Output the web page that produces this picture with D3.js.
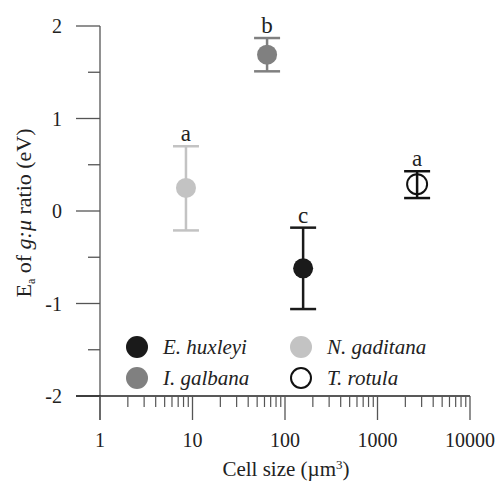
<!DOCTYPE html>
<html>
<head>
<meta charset="utf-8">
<script src="https://cdn.jsdelivr.net/npm/d3@7.9.0/dist/d3.min.js"></script>
<style>
  body { margin: 0; background: #fff; }
</style>
</head>
<body>
<svg width="501" height="482" font-family="'Liberation Serif', 'Times New Roman', Times, 'DejaVu Serif', serif"></svg>
<script>
const species = ['E. huxleyi', 'I. galbana', 'N. gaditana', 'T. rotula'];
const cellSize = [157, 64, 8.5, 2680];
const ea = [-0.62, 1.69, 0.25, 0.29];
const errLow = [-1.06, 1.51, -0.21, 0.14];
const errHigh = [-0.18, 1.87, 0.70, 0.43];
const letters = ['c', 'b', 'a', 'a'];
const fills = ['#1a1a1a', '#808080', '#c3c3c3', '#fff'];
const strokes = ['#1a1a1a', '#808080', '#c3c3c3', '#111'];
const xTicks = [1, 10, 100, 1000, 10000];
const yTicks = [-2, -1, 0, 1, 2];

const svg = d3.select('svg');
const x = d3.scaleLog().domain([1, 10000]).range([100, 470]);
const y = d3.scaleLinear().domain([-2, 2]).range([396, 26]);
const axisColor = '#555';

// y axis
svg.append('line').attr('x1', 100).attr('x2', 100)
  .attr('y1', y(2)).attr('y2', 420).attr('stroke', axisColor).attr('stroke-width', 1.3);
d3.range(-2, 2.01, 0.5).forEach((v) => {
  let major = Number.isInteger(v);
  svg.append('line').attr('x1', major ? 76 : 88).attr('x2', 100)
    .attr('y1', y(v)).attr('y2', y(v)).attr('stroke', axisColor).attr('stroke-width', 1.3);
});
yTicks.forEach((v) => {
  svg.append('text').attr('x', 62).attr('y', y(v) + 7)
    .attr('text-anchor', 'end').attr('font-size', 20).attr('fill', '#222').text(v);
});

// x axis
svg.append('line').attr('x1', 76).attr('x2', 470)
  .attr('y1', y(-2)).attr('y2', y(-2)).attr('stroke', '#222').attr('stroke-width', 1.3);
for (let d = 1; d < 10000; d *= 10) {
  for (let k = 2; k <= 9; k++) {
    svg.append('line').attr('x1', x(d * k)).attr('x2', x(d * k))
      .attr('y1', 396).attr('y2', 407).attr('stroke', axisColor).attr('stroke-width', 1.2);
  }
}
xTicks.forEach((v) => {
  svg.append('line').attr('x1', x(v)).attr('x2', x(v))
    .attr('y1', 396).attr('y2', 420).attr('stroke', axisColor).attr('stroke-width', 1.3);
  svg.append('text').attr('x', x(v)).attr('y', 447)
    .attr('text-anchor', 'middle').attr('font-size', 20).attr('fill', '#222').text(v);
});

// axis titles
let xt = svg.append('text').attr('x', 286).attr('y', 476)
  .attr('text-anchor', 'middle').attr('font-size', 21).attr('fill', '#222');
xt.append('tspan').text('Cell size (\u00b5m');
xt.append('tspan').attr('font-size', 13).attr('dy', -7).text('3');
xt.append('tspan').attr('dy', 7).text(')');

let yt = svg.append('text').attr('transform', 'translate(31,213) rotate(-90)')
  .attr('text-anchor', 'middle').attr('font-size', 22).attr('fill', '#222');
yt.append('tspan').text('E');
yt.append('tspan').attr('font-size', 12).attr('dy', 4).text('a');
yt.append('tspan').attr('dy', -4).text(' of ');
yt.append('tspan').attr('font-style', 'italic').text('g:\u03bc');
yt.append('tspan').text(' ratio (eV)');

// error bars and points
species.forEach((s, i) => {
  let cx = x(cellSize[i]);
  let g = svg.append('g');
  g.append('line').attr('x1', cx).attr('x2', cx)
    .attr('y1', y(errLow[i])).attr('y2', y(errHigh[i]))
    .attr('stroke', strokes[i]).attr('stroke-width', 2.5);
  [errLow[i], errHigh[i]].forEach((v) => {
    g.append('line').attr('x1', cx - 13).attr('x2', cx + 13)
      .attr('y1', y(v)).attr('y2', y(v))
      .attr('stroke', strokes[i]).attr('stroke-width', 2.5);
  });
  g.append('circle').attr('cx', cx).attr('cy', y(ea[i])).attr('r', 10)
    .attr('fill', i === 3 ? 'none' : fills[i])
    .attr('stroke', strokes[i]).attr('stroke-width', i === 3 ? 2 : 0);
  g.append('text').attr('x', cx).attr('y', y(errHigh[i]) - 5)
    .attr('text-anchor', 'middle').attr('font-size', 23).attr('fill', '#222')
    .text(letters[i]);
});

// legend
const legendPos = [[137, 347], [137, 378], [301, 347], [301, 378]];
species.forEach((s, i) => {
  let [lx, ly] = legendPos[i];
  svg.append('circle').attr('cx', lx).attr('cy', ly).attr('r', i === 3 ? 10 : 11)
    .attr('fill', i === 3 ? '#fff' : fills[i])
    .attr('stroke', strokes[i]).attr('stroke-width', i === 3 ? 2 : 0);
  svg.append('text').attr('x', lx + 26).attr('y', ly + 7)
    .attr('font-size', 21).attr('font-style', 'italic').attr('fill', '#222').text(s);
});
</script>
</body>
</html>
